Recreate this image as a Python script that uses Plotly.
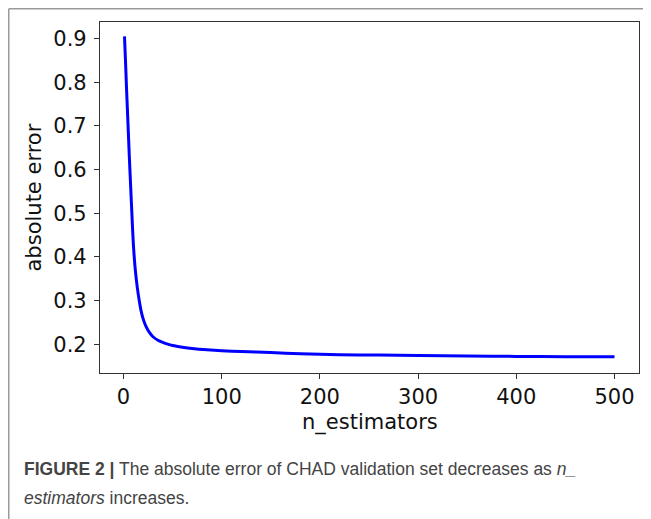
import plotly.graph_objects as go

# Data
n_estimators = [1, 2, 3, 4, 5, 6, 7, 8, 9, 10, 12, 14, 16, 18, 20, 23, 26, 30, 35, 40,
                45, 50, 60, 70, 85, 100, 120, 150, 180, 220, 260, 300, 350, 400, 450, 500]
abs_error = [0.905, 0.85, 0.79, 0.735, 0.68, 0.625, 0.575, 0.525, 0.475, 0.43, 0.37, 0.33,
             0.30, 0.275, 0.258, 0.24, 0.228, 0.217, 0.209, 0.204, 0.200, 0.197, 0.193,
             0.190, 0.187, 0.185, 0.183, 0.181, 0.178, 0.176, 0.175, 0.174, 0.173, 0.172,
             0.1715, 0.171]

x_ticks = [0, 100, 200, 300, 400, 500]
y_ticks = [0.2, 0.3, 0.4, 0.5, 0.6, 0.7, 0.8, 0.9]

x_title = "n_estimators"
y_title = "absolute error"
caption_1 = ("<b>FIGURE 2 |</b> The absolute error of CHAD validation set decreases as <i>n_</i>")
caption_2 = "<i>estimators</i> increases."

# page body has an 8px default margin: the figure is drawn at (8, 8)
OFF = 8
W, H = 651 - OFF, 519 - OFF
L, R, T, B = 100 - OFF, 639 - OFF, 22 - OFF, 373 - OFF

def px_x(p):
    return (p - OFF - L) / (R - L)

def px_y(p):
    return (B - (p - OFF)) / (B - T)

fig = go.Figure()
fig.add_trace(go.Scatter(x=n_estimators, y=abs_error, mode="lines",
                         line=dict(color="#0000ff", width=3, shape="spline", smoothing=0.6),
                         showlegend=False, hoverinfo="skip"))

axis_common = dict(showgrid=False, zeroline=False, showline=True, mirror=True,
                   linecolor="#333333", linewidth=1.2, ticks="outside", ticklen=5,
                   tickcolor="#333333", tickwidth=1.2,
                   tickfont=dict(family="DejaVu Sans", size=21, color="#111111"))

fig.update_xaxes(range=[-23.95, 524.95], tickvals=x_ticks,
                 ticktext=[str(v) for v in x_ticks], **axis_common)
fig.update_yaxes(range=[0.134, 0.938], tickvals=y_ticks, ticklabelstandoff=3,
                 ticktext=[f"{v:.1f}" for v in y_ticks], **axis_common)

fig.add_annotation(text=x_title, xref="paper", yref="paper", x=0.5, y=px_y(422),
                   showarrow=False, xanchor="center", yanchor="middle",
                   font=dict(family="DejaVu Sans", size=21, color="#111111"))
fig.add_annotation(text=y_title, xref="paper", yref="paper", x=px_x(33), y=0.5,
                   showarrow=False, xanchor="center", yanchor="middle", textangle=-90,
                   font=dict(family="DejaVu Sans", size=21, color="#111111"))

cap_font = dict(family="Liberation Sans Narrow, Arial Narrow, Liberation Sans", size=17.5,
                color="#444444")
fig.add_annotation(text=caption_1, xref="paper", yref="paper", x=px_x(22), y=px_y(469),
                   showarrow=False, xanchor="left", yanchor="middle", font=cap_font)
fig.add_annotation(text=caption_2, xref="paper", yref="paper", x=px_x(22), y=px_y(498),
                   showarrow=False, xanchor="left", yanchor="middle", font=cap_font)

# outer light grey frame (cut at right and bottom)
fig.add_shape(type="line", xref="paper", yref="paper", x0=px_x(8.75), x1=px_x(8.75),
              y0=px_y(8.75), y1=px_y(530), line=dict(color="#9a9a9a", width=1.5))
fig.add_shape(type="line", xref="paper", yref="paper", x0=px_x(8.75), x1=px_x(660),
              y0=px_y(8.75), y1=px_y(8.75), line=dict(color="#9a9a9a", width=1.5))

fig.update_layout(width=W, height=H, margin=dict(l=L, r=W - R, t=T, b=H - B),
                  paper_bgcolor="white", plot_bgcolor="white")

fig.write_html("out.html")
